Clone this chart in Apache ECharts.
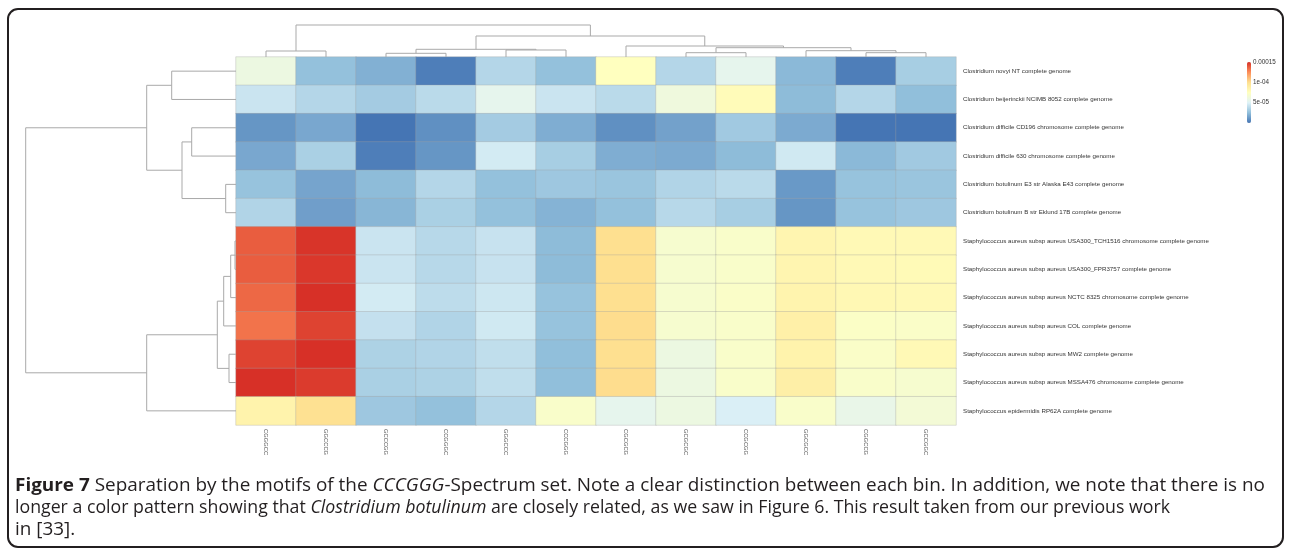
<!DOCTYPE html>
<html><head><meta charset="utf-8">
<script src="https://cdn.jsdelivr.net/npm/echarts@6/dist/echarts.min.js"></script>
<style>html,body{margin:0;padding:0;background:#fff}#c{width:1292px;height:549px}</style>
</head><body><div id="c"></div>
<script>
const rowNames = [
  'Clostridium novyi NT complete genome',
  'Clostridium beijerinckii NCIMB 8052 complete genome',
  'Clostridium difficile CD196 chromosome complete genome',
  'Clostridium difficile 630 chromosome complete genome',
  'Clostridium botulinum E3 str Alaska E43 complete genome',
  'Clostridium botulinum B str Eklund 17B complete genome',
  'Staphylococcus aureus subsp aureus USA300_TCH1516 chromosome complete genome',
  'Staphylococcus aureus subsp aureus USA300_FPR3757 complete genome',
  'Staphylococcus aureus subsp aureus NCTC 8325 chromosome complete genome',
  'Staphylococcus aureus subsp aureus COL complete genome',
  'Staphylococcus aureus subsp aureus MW2 complete genome',
  'Staphylococcus aureus subsp aureus MSSA476 chromosome complete genome',
  'Staphylococcus epidermidis RP62A complete genome'
];
const colNames = ['CGGGCC','GGCCCG','GCCCGG','CCGGGC','GGGCCC','CCCGGG','CGCGCG','GCGCGC','CCGCGG','GGCGCC','CGGCCG','GCCGGC'];

// motif frequencies, one row per genome (row order as displayed)
const values = [
  [6.0e-5,2.6e-5,2.0e-5,0.3e-5,3.6e-5,2.6e-5,7.5e-5,3.6e-5,5.5e-5,2.3e-5,0.3e-5,3.2e-5],
  [4.3e-5,3.6e-5,3.1e-5,3.8e-5,5.5e-5,4.3e-5,3.8e-5,6.2e-5,7.8e-5,2.4e-5,3.6e-5,2.5e-5],
  [1.1e-5,1.7e-5,0.0e-5,0.9e-5,3.1e-5,1.9e-5,0.9e-5,1.5e-5,3.0e-5,1.8e-5,0.0e-5,0.0e-5],
  [1.7e-5,3.3e-5,0.3e-5,1.1e-5,4.6e-5,3.2e-5,1.9e-5,1.8e-5,2.4e-5,4.5e-5,2.3e-5,3.0e-5],
  [2.7e-5,1.6e-5,2.4e-5,3.6e-5,2.6e-5,2.9e-5,2.8e-5,3.5e-5,3.8e-5,1.2e-5,2.7e-5,2.8e-5],
  [3.5e-5,1.4e-5,2.2e-5,3.3e-5,2.6e-5,2.1e-5,2.6e-5,3.7e-5,3.2e-5,1.1e-5,2.7e-5,2.9e-5],
  [13.8e-5,14.9e-5,4.3e-5,3.7e-5,4.2e-5,2.4e-5,10.0e-5,6.8e-5,7.0e-5,8.3e-5,8.0e-5,8.0e-5],
  [13.8e-5,14.8e-5,4.3e-5,3.7e-5,4.2e-5,2.4e-5,10.0e-5,6.8e-5,7.0e-5,8.3e-5,8.0e-5,7.9e-5],
  [13.5e-5,15.0e-5,4.6e-5,3.9e-5,4.4e-5,2.7e-5,10.0e-5,6.8e-5,7.1e-5,8.4e-5,8.1e-5,8.0e-5],
  [13.2e-5,14.5e-5,4.1e-5,3.5e-5,4.5e-5,2.7e-5,10.1e-5,6.8e-5,7.0e-5,8.7e-5,7.2e-5,7.1e-5],
  [14.5e-5,15.0e-5,3.4e-5,3.5e-5,4.0e-5,2.5e-5,10.0e-5,6.0e-5,7.0e-5,8.5e-5,7.1e-5,8.0e-5],
  [15.0e-5,14.7e-5,3.3e-5,3.4e-5,4.0e-5,2.5e-5,10.1e-5,6.0e-5,7.0e-5,8.8e-5,7.0e-5,6.8e-5],
  [8.5e-5,9.9e-5,2.9e-5,2.6e-5,3.6e-5,7.0e-5,5.5e-5,6.0e-5,4.8e-5,7.0e-5,5.7e-5,6.5e-5]
];

// hclust-style merges: negative = leaf (1-based display order), positive = earlier merge; third = height
const rowMerges = [
  [-7,-8,1.0],[1,-9,5.3],[2,-10,12.3],[-11,-12,7.0],[3,4,18.7],[5,-13,89.3],
  [-5,-6,10.3],[-3,-4,44.3],[8,7,54.0],[-1,-2,64.3],[10,9,89.3],[11,6,210.3]
];
const colMerges = [
  [-1,-2,6.0],[-3,-4,3.7],[-5,-6,7.0],[2,3,7.7],[-8,-9,4.3],[-11,-12,4.3],
  [-10,6,6.3],[5,7,9.3],[-7,8,11.0],[4,9,21.0],[1,10,32.0]
];

const legendMin = 0, legendMax = 0.00015, legendStep = 0.00005;
const legendTicks = {'0.00005':'5e-05','0.0001':'1e-04','0.00015':'0.00015'};

const captionLines = [
  '{b|Figure 7} Separation by the motifs of the {i|CCCGGG}-Spectrum set. Note a clear distinction between each bin. In addition, we note that there is no',
  'longer a color pattern showing that {i|Clostridium botulinum} are closely related, as we saw in Figure 6. This result taken from our previous work',
  'in [33].'
];
const captionWidths = [1250, 1155, null];

function dendroSegments(merges){
  const pos=[], ht=[], segs=[];
  merges.forEach((m,i)=>{
    const get = k => k<0 ? [-k-1,0] : [pos[k-1],ht[k-1]];
    const a=get(m[0]), b=get(m[1]);
    pos[i]=(a[0]+b[0])/2; ht[i]=m[2];
    segs.push([a[0],a[1],b[0],b[1],m[2]]);
  });
  return segs;
}
const rowMaxH = Math.max(...rowMerges.map(m=>m[2]));
const colMaxH = Math.max(...colMerges.map(m=>m[2]));

const heatData = [];
values.forEach((row,r)=>row.forEach((v,c)=>heatData.push([c,r,v])));

const capFont = "'Open Sans',sans-serif";
const capSize = 17.5;
const ctx = document.createElement('canvas').getContext('2d');
function measure(line){
  let w=0; const re=/\{(\w)\|([^}]*)\}|([^{]+)/g; let m;
  while((m=re.exec(line))){
    if(m[3]!==undefined){ctx.font=capSize+'px '+capFont; w+=ctx.measureText(m[3]).width;}
    else {ctx.font=(m[1]==='b'?'bold ':'italic ')+capSize+'px '+capFont; w+=ctx.measureText(m[2]).width;}
  }
  return w;
}
const baseScale = captionWidths[0]/measure(captionLines[0]);
const captionScales = captionLines.map((t,i)=>captionWidths[i] ? captionWidths[i]/measure(t) : baseScale);

const GL=236, GT=57, GW=720, GH=368;
const chart = echarts.init(document.getElementById('c'), null, {renderer:'canvas'});
const lineStyle = {stroke:'#a9a9a9', lineWidth:1, fill:null};
chart.setOption({
  animation:false,
  backgroundColor:'#fff',
  grid:[
    {left:GL, top:GT, width:GW, height:GH},
    {left:25.7, top:GT, width:GL-25.7, height:GH},
    {left:GL, top:25, width:GW, height:GT-25},
    {left:1247, top:62, width:4, height:61}
  ],
  xAxis:[
    {gridIndex:0, type:'category', data:colNames, axisLine:{show:false}, axisTick:{show:false},
     axisLabel:{rotate:-90, fontSize:5.8, color:'#555', margin:4, fontFamily:'Liberation Sans'}},
    {gridIndex:1, type:'value', min:0, max:rowMaxH, inverse:true, show:false},
    {gridIndex:2, type:'value', min:-0.5, max:colNames.length-0.5, show:false},
    {gridIndex:3, type:'value', show:false}
  ],
  yAxis:[
    {gridIndex:0, type:'category', data:rowNames, inverse:true, position:'right', axisLine:{show:false}, axisTick:{show:false},
     axisLabel:{fontSize:6.2, color:'#333', margin:7, fontFamily:'Liberation Sans'}},
    {gridIndex:1, type:'value', min:-0.5, max:rowNames.length-0.5, inverse:true, show:false},
    {gridIndex:2, type:'value', min:0, max:colMaxH, show:false},
    {gridIndex:3, type:'value', min:legendMin, max:legendMax, interval:legendStep, position:'right',
     axisLine:{show:false}, axisTick:{show:false}, splitLine:{show:false},
     axisLabel:{fontSize:6.3, color:'#333', margin:2, fontFamily:'Liberation Sans',
       formatter:v=>legendTicks[String(+v.toFixed(6))]||''}}
  ],
  visualMap:{type:'continuous', min:legendMin, max:legendMax, dimension:2, seriesIndex:0,
    left:1247, top:62, itemWidth:4, itemHeight:61, padding:0, calculable:false, text:null,
    inRange:{color:['#4575B4','#91BFDB','#E0F3F8','#FFFFBF','#FEE090','#FC8D59','#D73027']}},
  series:[
    {type:'heatmap', xAxisIndex:0, yAxisIndex:0, data:heatData,
     itemStyle:{borderColor:'rgba(160,160,160,0.55)', borderWidth:0.6}, emphasis:{disabled:true}},
    {type:'custom', xAxisIndex:1, yAxisIndex:1, data:dendroSegments(rowMerges), clip:false,
     renderItem:(p,api)=>{
       const pa=api.value(0),ha=api.value(1),pb=api.value(2),hb=api.value(3),h=api.value(4);
       return {type:'polyline', shape:{points:[api.coord([ha,pa]),api.coord([h,pa]),api.coord([h,pb]),api.coord([hb,pb])]}, style:lineStyle};
     }},
    {type:'custom', xAxisIndex:2, yAxisIndex:2, data:dendroSegments(colMerges), clip:false,
     renderItem:(p,api)=>{
       const pa=api.value(0),ha=api.value(1),pb=api.value(2),hb=api.value(3),h=api.value(4);
       return {type:'polyline', shape:{points:[api.coord([pa,ha]),api.coord([pa,h]),api.coord([pb,h]),api.coord([pb,hb])]}, style:lineStyle};
     }},
    {type:'line', xAxisIndex:3, yAxisIndex:3, data:[]}
  ],
  graphic:[
    {type:'rect', shape:{x:8, y:9, width:1275, height:538, r:10}, style:{fill:null, stroke:'#231f20', lineWidth:2}, z:100},
    ...captionLines.map((t,i)=>({type:'text', x:15, y:486+22*i, scaleX:captionScales[i], originX:0,
      style:{text:t, font:capSize+'px '+capFont, fill:'#231f20', verticalAlign:'middle',
        rich:{b:{fontWeight:'bold', fontSize:capSize, fontFamily:capFont, fill:'#231f20'},
              i:{fontStyle:'italic', fontSize:capSize, fontFamily:capFont, fill:'#231f20'}}}}))
  ]
});
</script></body></html>
